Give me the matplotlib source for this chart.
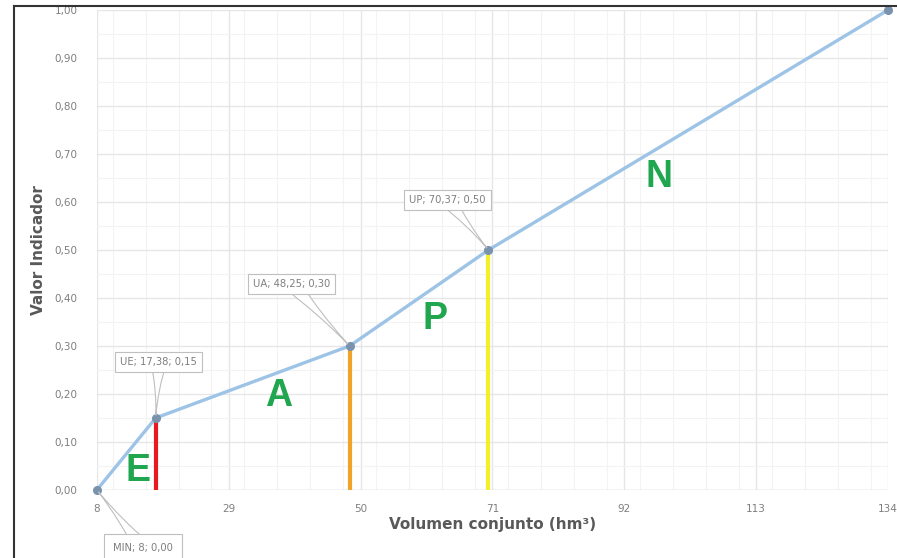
import matplotlib
matplotlib.use('Agg')
import matplotlib.pyplot as plt
from matplotlib.lines import Line2D
from matplotlib.ticker import MultipleLocator, FuncFormatter

# data
vol = [8, 17.38, 48.25, 70.37, 134]
val = [0.00, 0.15, 0.30, 0.50, 1.00]
point_names = ['MIN', 'UE', 'UA', 'UP', None]
x_ticks = [8, 29, 50, 71, 92, 113, 134]
y_ticks = [0.0, 0.1, 0.2, 0.3, 0.4, 0.5, 0.6, 0.7, 0.8, 0.9, 1.0]

# threshold lines (index into vol/val) and their colours
thr_idx = [1, 2, 3]
thr_colors = ['#e8191f', '#f0a22a', '#f2f02a']

# zone letters
zones = ['E', 'A', 'P', 'N']
zone_x = [14.5, 37.0, 61.8, 97.5]
zone_y = [0.04, 0.196, 0.356, 0.652]

# label offsets in pixels (box centre relative to point)
lab_off = [(46, -58), (3, 56), (-58, 62), (-41, 50)]

def comma(v, d=2):
    return f'{v:.{d}f}'.replace('.', ',')

fig = plt.figure(figsize=(8.97, 5.58), dpi=100)
ax = fig.add_axes([0.108, 0.122, 0.882, 0.860])

# grid
ax.set_xlim(8, 134)
ax.set_ylim(0, 1.0)
ax.set_xticks(x_ticks)
ax.set_yticks(y_ticks)
ax.xaxis.set_minor_locator(MultipleLocator(21 / 4))
ax.yaxis.set_minor_locator(MultipleLocator(0.05))
ax.grid(True, which='major', color='#e6e6e6', linewidth=1.0)
ax.grid(True, which='minor', color='#f3f3f3', linewidth=0.8)
ax.set_axisbelow(True)
for s in ax.spines.values():
    s.set_visible(False)
ax.axhline(0, color='#d9d9d9', linewidth=1.0, zorder=1)

ax.xaxis.set_major_formatter(FuncFormatter(lambda x, p: f'{x:.0f}'))
ax.yaxis.set_major_formatter(FuncFormatter(lambda y, p: comma(y)))
ax.tick_params(axis='both', which='both', length=0, labelsize=7.5, labelcolor='#7f7f7f')
ax.tick_params(axis='x', pad=10)
ax.tick_params(axis='y', pad=14)

# threshold verticals
for i, c in zip(thr_idx, thr_colors):
    ax.plot([vol[i], vol[i]], [0, val[i]], color=c, linewidth=3, zorder=2,
            solid_capstyle='butt')

# main curve
ax.plot(vol, val, color='#9dc3e6', linewidth=2.4, zorder=3,
        marker='o', markersize=5.5, markerfacecolor='#7a93ad',
        markeredgecolor='#7a93ad', clip_on=False)

# zone letters
for z, zx, zy in zip(zones, zone_x, zone_y):
    ax.text(zx, zy, z, color='#1fa64e', fontsize=27, fontweight='bold',
            ha='center', va='center', zorder=4, family='Liberation Sans')

# callout labels (wedge starts at the text centre, box drawn over its base)
for name, x, y, off in zip(point_names, vol, val, lab_off):
    if name is None:
        continue
    txt = f'{name}; {comma(x) if x != int(x) else int(x)}; {comma(y)}'
    pad = 0.9 if name == 'MIN' else 0.5
    ax.annotate(txt, xy=(x, y), xytext=off, textcoords='offset pixels',
                ha='center', va='center', fontsize=7.2, color='#7f7f7f',
                bbox=dict(boxstyle=f'square,pad={pad}', fc='white', ec='#bfbfbf', lw=0.8),
                arrowprops=dict(arrowstyle='wedge,tail_width=1.6,shrink_factor=0.3',
                                fc='white', ec='#bfbfbf', lw=0.8,
                                patchA=None, shrinkA=0, shrinkB=2),
                zorder=5, annotation_clip=False)

ax.set_xlabel('Volumen conjunto (hm³)', fontsize=11, fontweight='bold', color='#595959',
              labelpad=2)
ax.set_ylabel('Valor Indicador', fontsize=11, fontweight='bold', color='#595959',
              labelpad=6)

# frame edges of the screenshot
fig.add_artist(Line2D([14 / 897, 14 / 897], [0, 1 - 6 / 558], color='#333333', lw=1.5))
fig.add_artist(Line2D([14 / 897, 1], [1 - 6 / 558, 1 - 6 / 558], color='#333333', lw=1.5))

fig.savefig('out.png', dpi=100)
